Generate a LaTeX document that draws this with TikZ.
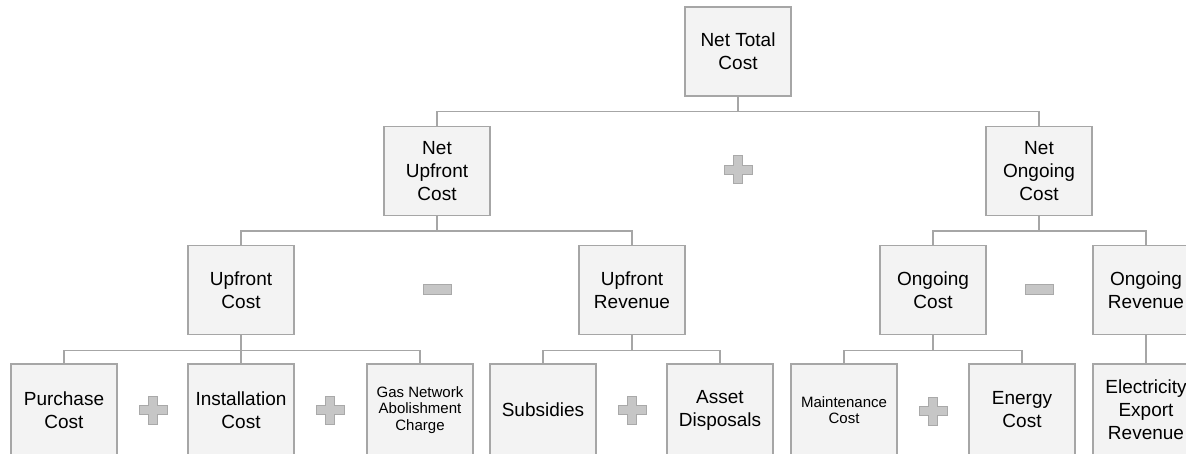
\documentclass[tikz,border=0pt]{standalone}
\usepackage{fontspec}
\setsansfont{Liberation Sans}
\definecolor{boxfill}{HTML}{F3F3F3}
\definecolor{boxline}{HTML}{A6A6A6}
\definecolor{signfill}{HTML}{C6C6C6}
\definecolor{signline}{HTML}{A9A9A9}
\tikzset{
  costbox/.style={draw=boxline,fill=boxfill,line width=1.5pt,minimum width=106pt,
    minimum height=89pt,inner sep=0pt,align=center,
    font=\sffamily\fontsize{19}{23}\selectfont},
  leafbox/.style={costbox,minimum height=92pt},
  smalltext/.style={font=\sffamily\fontsize{15}{16.5}\selectfont},
  tree/.style={boxline,line width=1.5pt},
  plussign/.pic={
    \filldraw[signfill,draw=signline,line width=1pt]
      (-4.5,-14)--(4.5,-14)--(4.5,-4.5)--(14,-4.5)--(14,4.5)--(4.5,4.5)--(4.5,14)
      --(-4.5,14)--(-4.5,4.5)--(-14,4.5)--(-14,-4.5)--(-4.5,-4.5)--cycle;},
  minussign/.pic={
    \filldraw[signfill,draw=signline,line width=1pt] (-14,-5) rectangle (14,5);}
}
\begin{document}
\begin{tikzpicture}[x=1pt,y=-1pt,font=\sffamily]
  \clip (0,0) rectangle (1186,454);

  % Top and second level
  \node[costbox] (total) at (738,51.5) {Net Total\\Cost};
  \node[costbox] (netup) at (437,171) {Net\\Upfront\\Cost};
  \node[costbox] (netgo) at (1039,171) {Net\\Ongoing\\Cost};

  % Third level
  \node[costbox] (upcost) at (241,290) {Upfront\\Cost};
  \node[costbox] (uprev) at (632,290) {Upfront\\Revenue};
  \node[costbox] (gocost) at (933,290) {Ongoing\\Cost};
  \node[costbox] (gorev) at (1146,290) {Ongoing\\Revenue};

  % Bottom level, cut by the lower edge
  \node[leafbox] (purchase) at (64,410) {Purchase\\Cost};
  \node[leafbox] (install) at (241,410) {Installation\\Cost};
  \node[leafbox,smalltext] (gas) at (420,410) {Gas Network\\Abolishment\\Charge};
  \node[leafbox] (subsidy) at (543,410) {Subsidies};
  \node[leafbox] (asset) at (720,410) {Asset\\Disposals};
  \node[leafbox,smalltext] (maint) at (844,410) {Maintenance\\Cost};
  \node[leafbox] (energy) at (1022,410) {Energy\\Cost};
  \node[leafbox] (export) at (1146,410) {Electricity\\Export\\Revenue};

  % Tree connectors
  \foreach \p/\c in {total/netup,total/netgo,netup/upcost,netup/uprev,
      netgo/gocost,netgo/gorev,upcost/purchase,upcost/install,upcost/gas,
      uprev/subsidy,uprev/asset,gocost/maint,gocost/energy,gorev/export}
    \draw[tree] (\p.south) -- ++(0,15) -| (\c.north);

  % Operators
  \pic at (738,170) {plussign};
  \pic at (437,290) {minussign};
  \pic at (1039,290) {minussign};
  \pic at (153,410) {plussign};
  \pic at (330,410) {plussign};
  \pic at (632,410) {plussign};
  \pic at (933,411) {plussign};
\end{tikzpicture}
\end{document}
